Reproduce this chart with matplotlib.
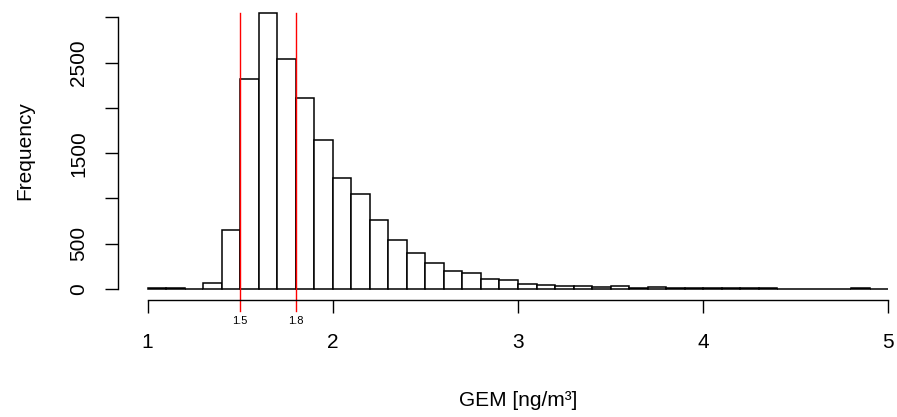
import numpy as np
import matplotlib
matplotlib.use("Agg")
import matplotlib.pyplot as plt

plt.rcParams['font.family'] = ['Liberation Sans', 'DejaVu Sans']

# histogram data: GEM concentration, bins of 0.1 from 1.0 to 5.0
bin_edges = np.round(np.arange(1.0, 5.0001, 0.1), 1)
counts = [14, 12, 4, 68, 652, 2319, 3049, 2539, 2113, 1644,
          1221, 1044, 766, 542, 399, 286, 193, 178, 112, 97,
          50, 48, 38, 30, 20, 38, 14, 26, 10, 10,
          12, 12, 6, 6, 4, 2, 4, 1, 6, 2]
marks = [1.5, 1.8]
mark_labels = ["1.5", "1.8"]
x_ticks = [1, 2, 3, 4, 5]
y_ticks = [0, 500, 1000, 1500, 2000, 2500, 3000]
y_ticklabels = ["0", "500", "", "1500", "", "2500", ""]

fig = plt.figure(figsize=(8.97, 4.17), dpi=100)
ax = fig.add_axes([118 / 897, 117 / 417, 800 / 897, 298 / 417])

ax.bar(bin_edges[:-1], counts, width=0.1, align='edge',
       facecolor='white', edgecolor='black', linewidth=1.1)

ymax = max(counts)
ax.set_xlim(0.84, 5.16)
ax.set_ylim(-0.04 * ymax, 1.04 * ymax)

# red reference lines with small labels below the baseline
for xm, lab in zip(marks, mark_labels):
    ax.plot([xm, xm], [-0.08 * ymax, ymax], color='red', lw=1.0, clip_on=False)
    ax.annotate(lab, xy=(xm, 0), xytext=(0, -23), textcoords='offset points',
                ha='center', va='center', fontsize=8, annotation_clip=False)

# R-style axes
for side in ['top', 'right']:
    ax.spines[side].set_visible(False)
ax.spines['left'].set_bounds(0, 3000)
ax.spines['bottom'].set_bounds(1, 5)
ax.spines['left'].set_linewidth(1.0)
ax.spines['bottom'].set_linewidth(1.0)

ax.set_xticks(x_ticks)
ax.set_xticklabels([str(t) for t in x_ticks])
ax.set_yticks(y_ticks)
ax.set_yticklabels(y_ticklabels, rotation=90, va='center')
ax.tick_params(direction='out', length=9.5, width=1.0, labelsize=15, pad=12)
ax.tick_params(axis='x', pad=14)

ax.set_xlabel("GEM [ng/m³]", fontsize=15, labelpad=28)
ax.set_ylabel("Frequency", fontsize=15, labelpad=25)

fig.savefig("out.png", dpi=100)
